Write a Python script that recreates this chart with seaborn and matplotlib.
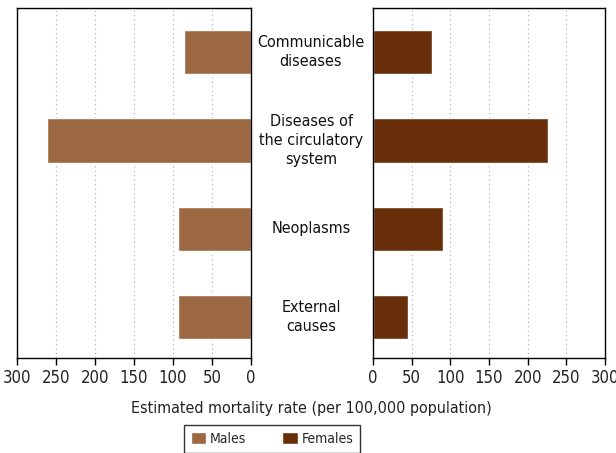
import matplotlib
matplotlib.use("Agg")
from matplotlib import pyplot as plt
from matplotlib.patches import Patch
import pandas as pd
import seaborn as sns

# Data
causes = ["Communicable\ndiseases", "Diseases of\nthe circulatory\nsystem", "Neoplasms", "External\ncauses"]
males = [86, 262, 94, 94]
females = [76, 226, 91, 45]
ticks = [0, 50, 100, 150, 200, 250, 300]

male_color = "#9c6841"
female_color = "#682f0a"

df_m = pd.DataFrame({"cause": causes, "rate": males})
df_f = pd.DataFrame({"cause": causes, "rate": females})

sns.set_style("white")
plt.rcParams["font.family"] = ["DejaVu Sans"]
plt.rcParams["font.stretch"] = "condensed"
plt.rcParams["font.size"] = 12

fig = plt.figure(figsize=(6.16, 4.53), dpi=100)
ax1 = fig.add_axes([17 / 616, 1 - 358 / 453, 234 / 616, 350 / 453])
ax2 = fig.add_axes([373 / 616, 1 - 358 / 453, 232 / 616, 350 / 453])

sns.barplot(data=df_m, x="rate", y="cause", orient="h", color=male_color,
            width=0.5, ax=ax1, saturation=1)
sns.barplot(data=df_f, x="rate", y="cause", orient="h", color=female_color,
            width=0.5, ax=ax2, saturation=1)

for ax in (ax1, ax2):
    ax.set_xlim(0, 300)
    ax.set_xticks(ticks)
    ax.set_xticklabels([str(t) for t in ticks], fontsize=12, color="#222222")
    ax.set_ylim(3.46, -0.5)
    ax.set_ylabel("")
    ax.set_xlabel("")
    ax.set_yticks([])
    ax.grid(axis="x", linestyle=(0, (1, 3)), color="#aaaaaa", linewidth=0.8)
    ax.set_axisbelow(True)
    ax.tick_params(axis="x", bottom=True, length=5, width=1, color="black",
                   direction="out", pad=3)
    for s in ax.spines.values():
        s.set_visible(True)
        s.set_color("black")
        s.set_linewidth(1)

ax1.invert_xaxis()

# category labels between the panels
for i, c in enumerate(causes):
    y = ax1.transData.transform((0, i))[1]
    fx, fy = fig.transFigure.inverted().transform((0, y))
    fig.text(311 / 616, fy, c, ha="center", va="center", fontsize=11.5,
             color="#111111", linespacing=1.33)

fig.text(311 / 616, 1 - 408 / 453, "Estimated mortality rate (per 100,000 population)",
         ha="center", va="center", fontsize=11.5, color="#222222")

handles = [Patch(facecolor=male_color, label="Males"),
           Patch(facecolor=female_color, label="Females")]
leg = fig.legend(handles=handles, loc="upper center", bbox_to_anchor=(272 / 616, 1 - 425 / 453),
                 ncol=2, frameon=True, fancybox=False, edgecolor="black",
                 fontsize=10, handlelength=1.15, handleheight=1.0, columnspacing=2.6,
                 handletextpad=0.25, borderpad=0.5, borderaxespad=0)
leg.get_frame().set_linewidth(1)

fig.savefig("out.png", dpi=100)
